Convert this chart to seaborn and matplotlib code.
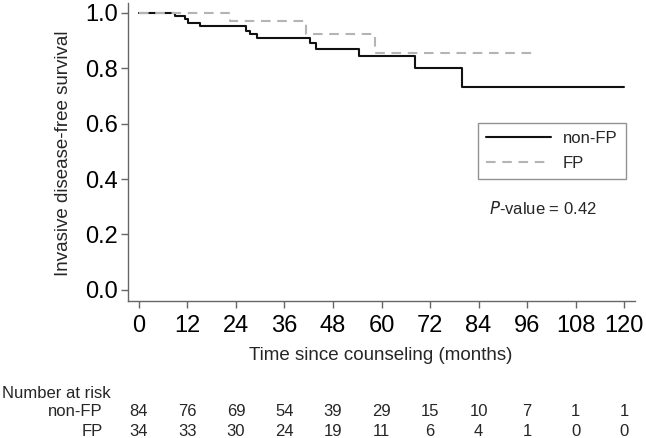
import numpy as np
import pandas as pd
import matplotlib
matplotlib.use("Agg")
import matplotlib.pyplot as plt
import matplotlib.transforms as mtrans
from matplotlib.lines import Line2D
import seaborn as sns

# ---- data ----
nonfp_time = [0, 8.9, 11.3, 12.1, 15.0, 26.6, 27.4, 29.1, 42.3, 43.9, 54.5, 68.2, 79.8, 120]
nonfp_surv = [1.0, 0.988, 0.976, 0.964, 0.952, 0.934, 0.922, 0.908, 0.889, 0.868, 0.844, 0.802, 0.733, 0.733]
fp_time = [0, 22.5, 41.4, 58.5, 97.9]
fp_surv = [1.0, 0.971, 0.922, 0.853, 0.853]

groups = ["non-FP", "FP"]
risk_times = [0, 12, 24, 36, 48, 60, 72, 84, 96, 108, 120]
risk_nonfp = [84, 76, 69, 54, 39, 29, 15, 10, 7, 1, 1]
risk_fp = [34, 33, 30, 24, 19, 11, 6, 4, 1, 0, 0]
y_ticks = [0.0, 0.2, 0.4, 0.6, 0.8, 1.0]
p_value_text = "= 0.42"

df = pd.concat([
    pd.DataFrame({"time": nonfp_time, "surv": nonfp_surv, "group": groups[0]}),
    pd.DataFrame({"time": fp_time, "surv": fp_surv, "group": groups[1]}),
], ignore_index=True)

sns.set_style("ticks")
plt.rcParams["font.family"] = ["Liberation Sans", "DejaVu Sans"]

W, H = 646, 438
fig = plt.figure(figsize=(W / 100, H / 100), dpi=100)
ax = fig.add_axes([128 / W, 1 - 301.3 / H, 507 / W, 298.3 / H])

colors = {"non-FP": "#111111", "FP": "#b4b4b4"}
sns.lineplot(data=df, x="time", y="surv", hue="group", palette=colors,
             drawstyle="steps-post", estimator=None, sort=True, ax=ax,
             legend=False, linewidth=1.5)
lines = ax.get_lines()
lines[1].set_dashes([4.6, 3.2])
lines[1].set_zorder(3)

ax.set_xlim(-2.7, 122.7)
ax.set_ylim(-0.041, 1.035)
ax.set_xticks(risk_times)
ax.set_yticks(y_ticks)
ax.set_yticklabels([f"{v:.1f}" for v in y_ticks])
for s in ["top", "right"]:
    ax.spines[s].set_visible(False)
for s in ["left", "bottom"]:
    ax.spines[s].set_color("#666666")
    ax.spines[s].set_linewidth(1.0)
ax.tick_params(axis="both", colors="#666666", labelcolor="black", labelsize=17,
               length=5, width=1.0)
ax.tick_params(axis="x", pad=5)
ax.tick_params(axis="y", pad=2)
ax.set_xlabel("")
ax.set_ylabel("Invasive disease-free survival", fontsize=13.5)
ax.yaxis.set_label_coords(63 / W, 1 - 153 / H, transform=fig.transFigure)
ax.yaxis.label.set_verticalalignment("center")
fig.text(381 / W, 1 - 355 / H, "Time since counseling (months)", ha="center",
         va="center", fontsize=13.5)

handles = [Line2D([], [], color=colors["non-FP"], lw=1.5),
           Line2D([], [], color=colors["FP"], lw=1.5, dashes=[4.6, 3.2])]
leg = ax.legend(handles, groups, loc="upper left",
                bbox_to_anchor=(478 / W, 1 - 123 / H), bbox_transform=fig.transFigure,
                frameon=True, fancybox=False, fontsize=12, handlelength=3.9,
                handletextpad=0.7, labelspacing=0.55, borderpad=0.5,
                borderaxespad=0)
leg.get_frame().set_edgecolor("#777777")
leg.get_frame().set_linewidth(1.0)

fig.text(543 / W, 1 - 208 / H, r"$\it{P}$" + "-value " + p_value_text, ha="center",
         va="center", fontsize=12)

# number at risk table
trans = mtrans.blended_transform_factory(ax.transData, fig.transFigure)
fig.text(2 / W, 1 - 393 / H, "Number at risk", ha="left", va="center", fontsize=12)
fig.text(103 / W, 1 - 412 / H, groups[0], ha="right", va="center", fontsize=12)
fig.text(103 / W, 1 - 431 / H, groups[1], ha="right", va="center", fontsize=12)
for t, a, b in zip(risk_times, risk_nonfp, risk_fp):
    ax.text(t, 1 - 412 / H, str(a), transform=trans, ha="center", va="center", fontsize=12)
    ax.text(t, 1 - 431 / H, str(b), transform=trans, ha="center", va="center", fontsize=12)

fig.savefig("out.png", dpi=100)
